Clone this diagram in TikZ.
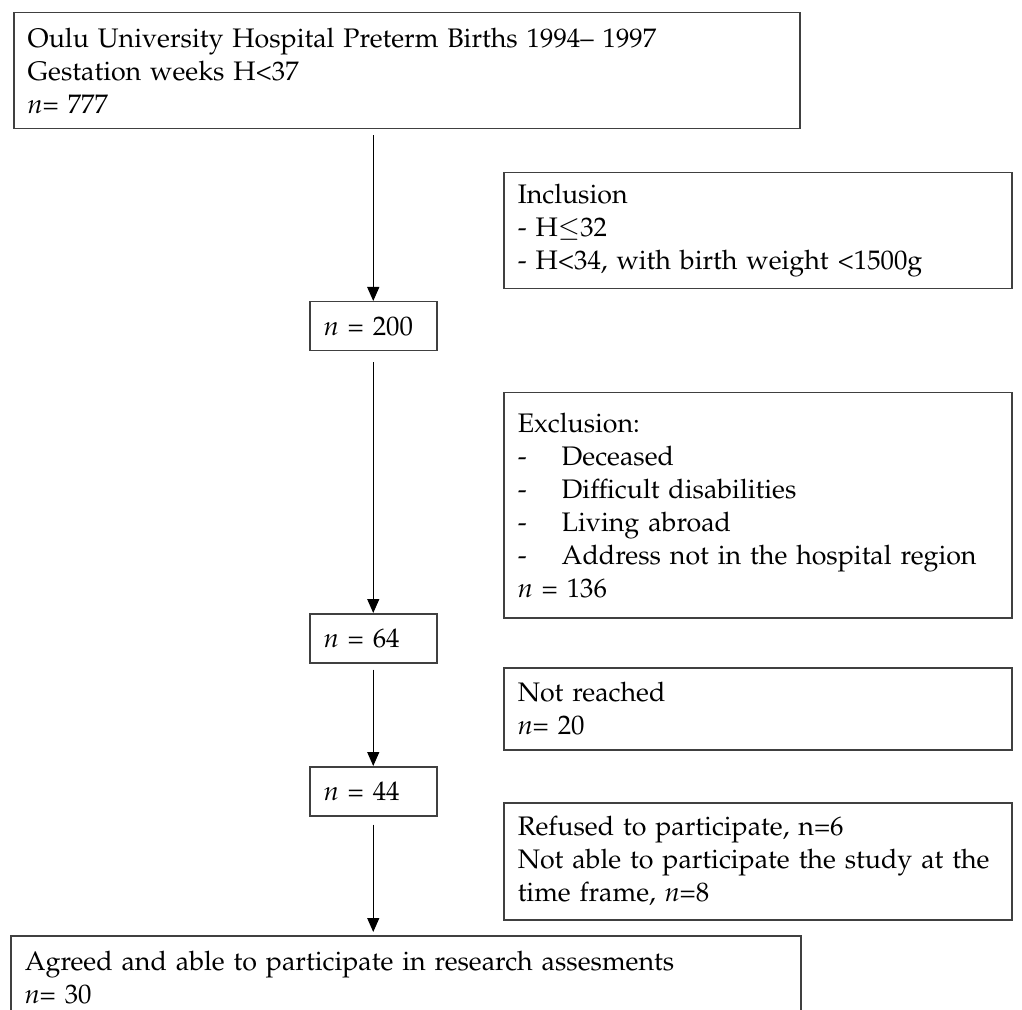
\documentclass[tikz,border=0pt]{standalone}
\usepackage[T1]{fontenc}
\usepackage{mathpazo}
\usetikzlibrary{arrows.meta}
\tikzstyle{flow_box} = [rectangle, draw=black!75, line width=0.75pt, anchor=north west, align=left, inner xsep=7pt, inner ysep=0pt, font=\fontsize{13.4}{16.5}\selectfont]
\tikzstyle{count_box} = [flow_box, text width=49.5pt, minimum height=24.5pt]
\tikzstyle{note_box} = [flow_box, text width=240pt]
\tikzstyle{flow_arrow} = [line width=0.6pt, -{Triangle[length=7pt, width=6pt]}]
\newcommand{\dashitem}[1]{\makebox[22pt][l]{-}#1}

\begin{document}
\begin{tikzpicture}[x=0.5pt, y=-0.5pt]
    \useasboundingbox (0,0) rectangle (1022,1010);
    \clip (0,0) rectangle (1022,1010);

    % main column
    \node (births) [flow_box, text width=379pt, minimum height=58pt] at (13,12) {Oulu University Hospital Preterm Births 1994-- 1997\\Gestation weeks H<37\\\textit{n}= 777};
    \node (n200) [count_box] at (309,301) {\textit{n} = 200};
    \node (n64) [count_box] at (309,613) {\textit{n} = 64};
    \node (n44) [count_box] at (309,766) {\textit{n} = 44};
    \node (agreed) [flow_box, text width=381pt, minimum height=41.5pt] at (10,935) {Agreed and able to participate in research assesments\\\textit{n}= 30};

    % side notes
    \node (inclusion) [note_box, minimum height=58pt] at (503,172) {Inclusion\\- H$\leq$32\\- H<34, with birth weight <1500g};
    \node (exclusion) [note_box, minimum height=112.5pt] at (503,392) {Exclusion:\\\dashitem{Deceased}\\\dashitem{Difficult disabilities}\\\dashitem{Living abroad}\\\dashitem{Address not in the hospital region}\\\textit{n} = 136};
    \node (notreached) [note_box, minimum height=41pt] at (503,667) {Not reached\\\textit{n}= 20};
    \node (refused) [note_box, minimum height=58.5pt] at (503,802) {Refused to participate, n=6\\Not able to participate the study at the\\time frame, \textit{n}=8};

    % flow
    \draw [flow_arrow, shorten <=3pt] (births.south -| n200.north) -- (n200.north);
    \draw [flow_arrow, shorten <=5.5pt] (n200) -- (n64);
    \draw [flow_arrow, shorten <=3pt] (n64) -- (n44);
    \draw [flow_arrow, shorten <=4pt, shorten >=1.5pt] (n44.south) -- (n44.south |- agreed.north);
\end{tikzpicture}
\end{document}
